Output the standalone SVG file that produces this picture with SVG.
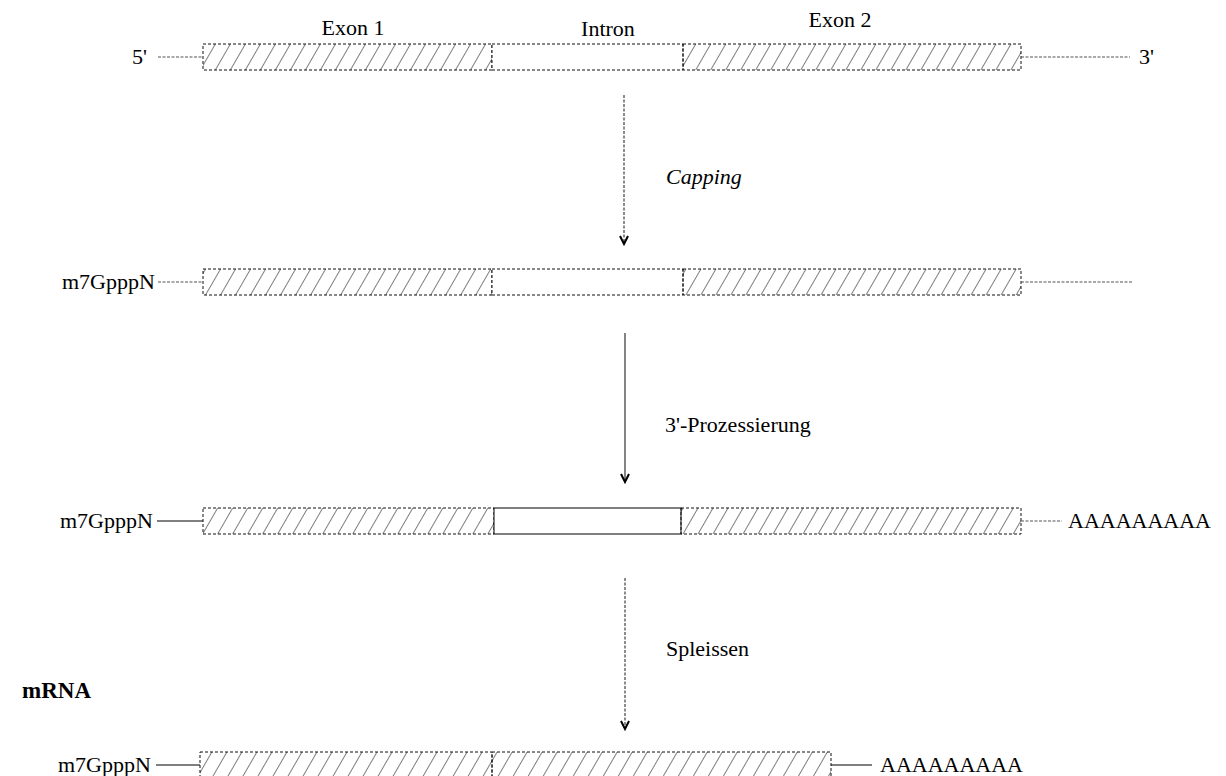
<svg xmlns="http://www.w3.org/2000/svg" width="1226" height="776" viewBox="0 0 1226 776">
<style>
text{font-family:"Liberation Serif","Times New Roman",serif;font-size:22px;fill:#000}
.dbox{fill:url(#hatch);stroke:#111;stroke-width:1;stroke-dasharray:3 2}
.dint{fill:#fff;stroke:#111;stroke-width:1;stroke-dasharray:3 2}
.sint{fill:#fff;stroke:#000;stroke-width:1}
.dl{stroke:#555;stroke-width:1.2;stroke-dasharray:3 1.5;fill:none}
.sl{stroke:#000;stroke-width:1.2;fill:none}
.arr-d{stroke:#666;stroke-width:1.5;stroke-dasharray:3 1.5;fill:none;marker-end:url(#ah)}
.arr-s{stroke:#666;stroke-width:1.6;fill:none;marker-end:url(#ah)}
</style>
<defs>
<pattern id="hatch" patternUnits="userSpaceOnUse" width="13" height="10" patternTransform="rotate(30)">
<line x1="0" y1="-1" x2="0" y2="11" stroke="#000" stroke-width="1"/>
</pattern>
<marker id="ah" markerWidth="12" markerHeight="12" refX="9" refY="5" orient="auto" markerUnits="userSpaceOnUse">
<path d="M1,1 L9,5 L1,9" fill="none" stroke="#000" stroke-width="2"/>
</marker>
</defs>

<g id="labels">
<text x="353" y="35" text-anchor="middle">Exon 1</text>
<text x="608" y="36" text-anchor="middle">Intron</text>
<text x="840" y="27" text-anchor="middle">Exon 2</text>
<text x="22" y="698" style="font-weight:bold;font-size:23px">mRNA</text>
</g>

<g id="row1">
<text x="132" y="64">5'</text>
<line class="dl" x1="158" y1="57" x2="203" y2="57"/>
<rect class="dbox" x="203" y="44" width="289" height="26"/>
<rect class="dint" x="492" y="44" width="191" height="26"/>
<rect class="dbox" x="683" y="44" width="338" height="26"/>
<line class="dl" x1="1021" y1="57" x2="1130" y2="57"/>
<text x="1139" y="64">3'</text>
</g>

<g id="row2">
<text x="62" y="289">m7GpppN</text>
<line class="dl" x1="158" y1="282" x2="203" y2="282"/>
<rect class="dbox" x="203" y="269" width="289" height="26"/>
<rect class="dint" x="492" y="269" width="191" height="26"/>
<rect class="dbox" x="683" y="269" width="338" height="26"/>
<line class="dl" x1="1021" y1="282" x2="1132" y2="282"/>
</g>

<g id="row3">
<text x="60" y="528">m7GpppN</text>
<line class="sl" x1="157" y1="521" x2="203" y2="521"/>
<rect class="dbox" x="203" y="508" width="291" height="26"/>
<rect class="sint" x="494" y="508" width="187" height="26"/>
<rect class="dbox" x="681" y="508" width="340" height="26"/>
<line class="dl" x1="1021" y1="521" x2="1062" y2="521"/>
<text x="1068" y="528">AAAAAAAAA</text>
</g>

<g id="row4">
<text x="58" y="772">m7GpppN</text>
<line class="sl" x1="156" y1="765" x2="200" y2="765"/>
<rect class="dbox" x="200" y="752" width="292" height="26"/>
<rect class="dbox" x="492" y="752" width="339" height="26"/>
<line class="sl" x1="831" y1="765" x2="872" y2="765"/>
<text x="880" y="772">AAAAAAAAA</text>
</g>

<g id="connectors">
<line class="arr-d" x1="624" y1="95" x2="624" y2="244"/>
<text x="666" y="184" style="font-style:italic">Capping</text>
<line class="arr-s" x1="625" y1="333" x2="625" y2="482"/>
<text x="665" y="432">3'-Prozessierung</text>
<line class="arr-d" x1="625" y1="578" x2="625" y2="729"/>
<text x="666" y="656">Spleissen</text>
</g>
</svg>
